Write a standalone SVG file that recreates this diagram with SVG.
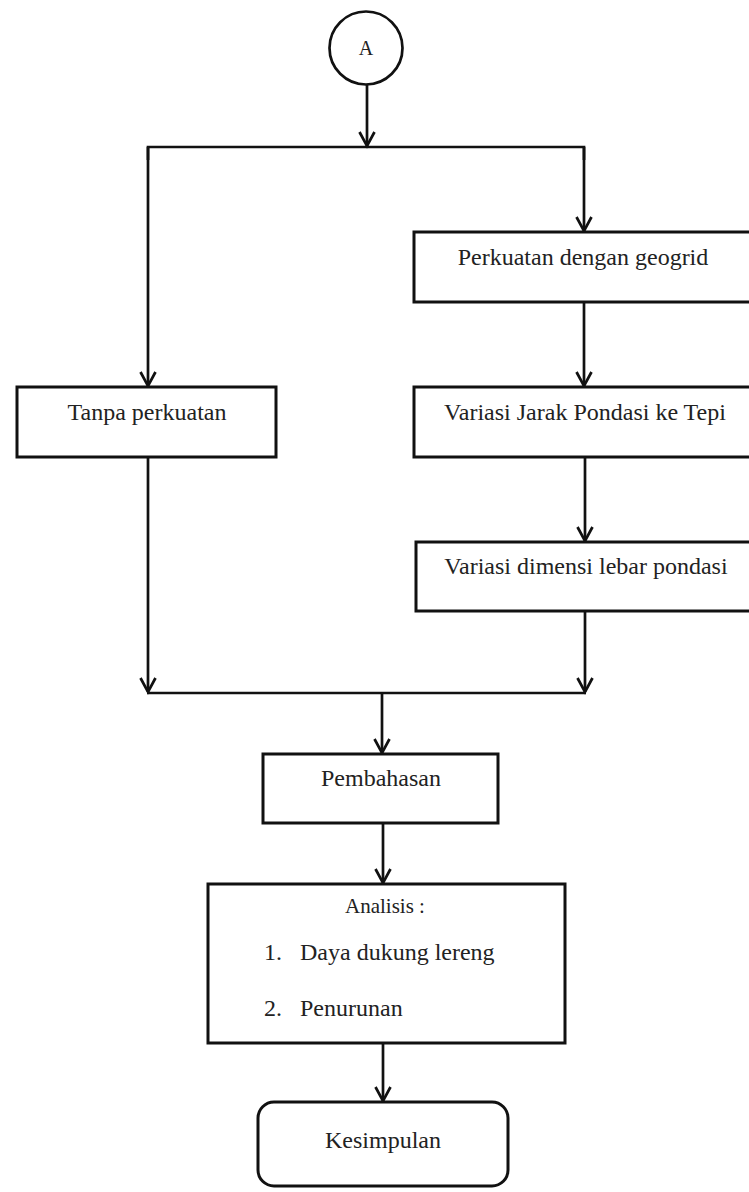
<svg xmlns="http://www.w3.org/2000/svg" width="749" height="1192" viewBox="0 0 749 1192">
<style>
.box{fill:#fff;stroke:#111;stroke-width:3}
.ln{fill:none;stroke:#111;stroke-width:2.7}
.t{font-family:"Liberation Serif","Times New Roman",serif;font-size:24px;fill:#222}
.tc{text-anchor:middle}
</style>
<defs>
<marker id="ah" markerUnits="userSpaceOnUse" markerWidth="20" markerHeight="20" viewBox="-16 -10 20 20" refX="0" refY="0" orient="auto">
<path d="M-14,-7.5 L0,0 L-14,7.5" fill="none" stroke="#111" stroke-width="2.7"/>
</marker>
</defs>
<rect width="749" height="1192" fill="#fff"/>
<g id="connectors">
<line class="ln" x1="367" y1="85" x2="367" y2="146" marker-end="url(#ah)"/>
<polyline class="ln" points="148,160 148,147 584,147 584,160"/>
<path class="ln" d="M148,147 V386" marker-end="url(#ah)"/>
<path class="ln" d="M584,147 V231" marker-end="url(#ah)"/>
<path class="ln" d="M584,302 V386" marker-end="url(#ah)"/>
<path class="ln" d="M585,457 V541" marker-end="url(#ah)"/>
<path class="ln" d="M585,611 V692" marker-end="url(#ah)"/>
<path class="ln" d="M148,457 V692" marker-end="url(#ah)"/>
<line class="ln" x1="147" y1="693" x2="586" y2="693"/>
<path class="ln" d="M382,693 V753" marker-end="url(#ah)"/>
<path class="ln" d="M383,823 V883" marker-end="url(#ah)"/>
<path class="ln" d="M383,1043 V1101" marker-end="url(#ah)"/>
</g>
<g id="nodeA">
<circle cx="366" cy="48" r="36.5" fill="#fff" stroke="#111" stroke-width="2.7"/>
<text class="t tc" x="366" y="55" style="font-size:20px">A</text>
</g>
<g id="geogrid">
<rect class="box" x="414" y="232" width="345" height="70"/>
<text class="t tc" x="583" y="265">Perkuatan dengan geogrid</text>
</g>
<g id="tanpa">
<rect class="box" x="17" y="387" width="259" height="70"/>
<text class="t tc" x="147" y="420">Tanpa perkuatan</text>
</g>
<g id="jarak">
<rect class="box" x="414" y="387" width="345" height="70"/>
<text class="t tc" x="585" y="420">Variasi Jarak Pondasi ke Tepi</text>
</g>
<g id="lebar">
<rect class="box" x="416" y="542" width="345" height="69"/>
<text class="t tc" x="586" y="574">Variasi dimensi lebar pondasi</text>
</g>
<g id="pembahasan">
<rect class="box" x="263" y="754" width="235" height="69"/>
<text class="t tc" x="381" y="786">Pembahasan</text>
</g>
<g id="analisis">
<rect class="box" x="208" y="884" width="357" height="159"/>
<text class="t tc" x="385" y="913" style="font-size:21px">Analisis :</text>
<text class="t" x="264" y="960">1.</text>
<text class="t" x="300" y="960">Daya dukung lereng</text>
<text class="t" x="264" y="1016">2.</text>
<text class="t" x="300" y="1016">Penurunan</text>
</g>
<g id="kesimpulan">
<rect class="box" x="258" y="1102" width="250" height="84" rx="16"/>
<text class="t tc" x="383" y="1148">Kesimpulan</text>
</g>
</svg>
